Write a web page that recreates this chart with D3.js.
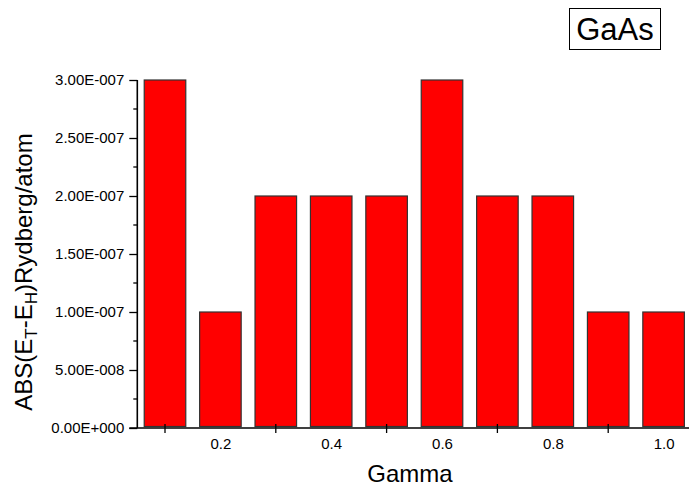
<!DOCTYPE html>
<html>
<head>
<meta charset="utf-8">
<script src="https://cdn.jsdelivr.net/npm/d3@7"></script>
<style>
  body { margin: 0; background: #fff; }
  svg { display: block; font-family: Arial, "Liberation Sans", sans-serif; }
</style>
</head>
<body>
<div id="chart"></div>
<script>
// data
let gamma = [0.1, 0.2, 0.3, 0.4, 0.5, 0.6, 0.7, 0.8, 0.9, 1.0];
let absDiff = [3e-7, 1e-7, 2e-7, 2e-7, 2e-7, 3e-7, 2e-7, 2e-7, 1e-7, 1e-7];
let yTicks = [0, 5e-8, 1e-7, 1.5e-7, 2e-7, 2.5e-7, 3e-7];
let xLabels = [0.2, 0.4, 0.6, 0.8, 1.0];
let xMinor = [0.1, 0.3, 0.5, 0.7, 0.9];

/** CONSTANTS */
let width = 689,
  height = 491,
  barFrac = 0.75;

/** SCALES */
let xScale = d3.scaleLinear()
  .domain([0.05, 1.05])
  .range([137.3, 691.3]);

let yScale = d3.scaleLinear()
  .domain([0, 3e-7])
  .range([428, 80]);

let step = xScale(0.2) - xScale(0.1);
let barW = step * barFrac;

// Origin style "3.00E-007"
function sciFmt(v) {
  if (v === 0) return "0.00E+000";
  let e = Math.floor(Math.log10(Math.abs(v)) + 1e-9);
  let m = v / Math.pow(10, e);
  let sign = e < 0 ? "-" : "+";
  return m.toFixed(2) + "E" + sign + String(Math.abs(e)).padStart(3, "0");
}

/** MAIN CODE */
let svg = d3.select("#chart")
  .append("svg")
  .attr("width", width)
  .attr("height", height);

// bars
svg.selectAll("rect.bar")
  .data(gamma)
  .join("rect")
  .attr("class", "bar")
  .attr("x", (d, i) => xScale(d) - barW / 2)
  .attr("y", (d, i) => yScale(absDiff[i]))
  .attr("width", barW)
  .attr("height", (d, i) => yScale(0) - yScale(absDiff[i]) - 1.5)
  .attr("fill", "#ff0000")
  .attr("stroke", "#333")
  .attr("stroke-width", 1.2);

// y axis
let yAxis = d3.axisLeft(yScale)
  .tickValues(yTicks)
  .tickFormat(sciFmt)
  .tickSize(8)
  .tickPadding(5);

let gy = svg.append("g")
  .attr("transform", `translate(${xScale(0.05)},0)`)
  .call(yAxis);
gy.select(".domain").remove();
gy.selectAll("line").attr("stroke", "#000").attr("stroke-width", 1.3);
gy.selectAll("text").attr("font-size", 15).attr("fill", "#000")
  .attr("font-family", "Arial, 'Liberation Sans', sans-serif");

// y minor ticks
let yMinor = yTicks.slice(0, -1).map(d => d + 2.5e-8);
gy.selectAll("line.minor")
  .data(yMinor)
  .join("line")
  .attr("class", "minor")
  .attr("x1", -4).attr("x2", 0)
  .attr("y1", d => yScale(d)).attr("y2", d => yScale(d))
  .attr("stroke", "#000").attr("stroke-width", 1.3);

gy.append("line")
  .attr("x1", 0).attr("x2", 0)
  .attr("y1", yScale(3e-7)).attr("y2", yScale(0))
  .attr("stroke", "#000").attr("stroke-width", 1.6);

// x axis
let xAxis = d3.axisBottom(xScale)
  .tickValues(xLabels)
  .tickFormat(d3.format(".1f"))
  .tickSize(0)
  .tickPadding(10);

let gx = svg.append("g")
  .attr("transform", `translate(0,${yScale(0)})`)
  .call(xAxis);
gx.select(".domain").remove();
gx.selectAll("text").attr("font-size", 15).attr("fill", "#000")
  .attr("font-family", "Arial, 'Liberation Sans', sans-serif");

gx.append("line")
  .attr("x1", xScale(0.05) - 8).attr("x2", width)
  .attr("y1", 0).attr("y2", 0)
  .attr("stroke", "#000").attr("stroke-width", 1.3);

gx.selectAll("line.minor")
  .data(xMinor)
  .join("line")
  .attr("class", "minor")
  .attr("x1", d => xScale(d)).attr("x2", d => xScale(d))
  .attr("y1", -4).attr("y2", 5)
  .attr("stroke", "#000").attr("stroke-width", 1.3);

// axis titles
svg.append("text")
  .attr("x", 410)
  .attr("y", 482)
  .attr("text-anchor", "middle")
  .attr("font-size", 24)
  .text("Gamma");

let yTitle = svg.append("text")
  .attr("transform", "translate(32,272) rotate(-90)")
  .attr("text-anchor", "middle")
  .attr("font-size", 24);
yTitle.append("tspan").text("ABS(E");
yTitle.append("tspan").attr("font-size", 17).attr("dy", 5).text("T");
yTitle.append("tspan").attr("dy", -5).text("-E");
yTitle.append("tspan").attr("font-size", 17).attr("dy", 5).text("H");
yTitle.append("tspan").attr("dy", -5).text(")Rydberg/atom");

// label box
svg.append("rect")
  .attr("x", 569.5).attr("y", 8.5)
  .attr("width", 91).attr("height", 41)
  .attr("fill", "none")
  .attr("stroke", "#000")
  .attr("stroke-width", 1);

svg.append("text")
  .attr("x", 615)
  .attr("y", 40)
  .attr("text-anchor", "middle")
  .attr("font-size", 31)
  .text("GaAs");
</script>
</body>
</html>
